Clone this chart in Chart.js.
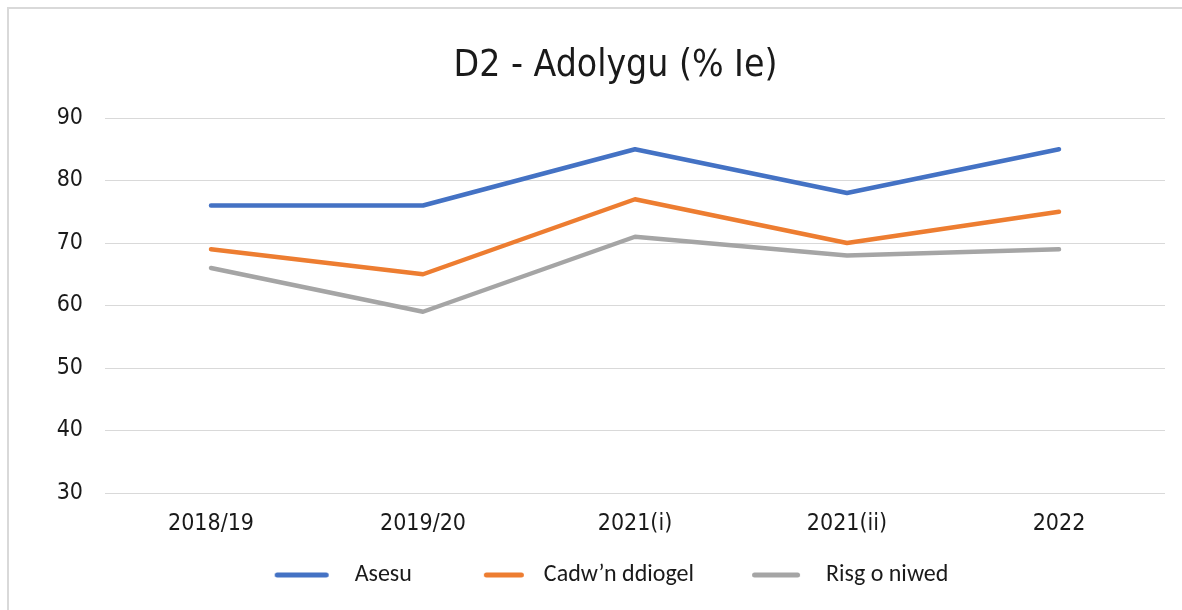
<!DOCTYPE html>
<html>
<head>
<meta charset="utf-8">
<script src="https://cdn.jsdelivr.net/npm/chart.js@4/dist/chart.umd.min.js"></script>
<style>
  body { margin: 0; background: #fff; overflow: hidden; }
  .frame {
    position: absolute; left: 7px; top: 7px; width: 1400px; height: 800px;
    border-left: 2px solid #d9d9d9; border-top: 2px solid #d9d9d9;
  }
  .wrap { position: absolute; left: 0; top: 0; width: 1182px; height: 610px; }
</style>
</head>
<body>
<div class="frame"></div>
<div class="wrap"><canvas id="adolyguChart"></canvas></div>
<script>
const categories = ['2018/19', '2019/20', '2021(i)', '2021(ii)', '2022'];
const asesu = [76, 76, 85, 78, 85];
const cadwnDdiogel = [69, 65, 77, 70, 75];
const risgONiwed = [66, 59, 71, 68, 69];
const seriesNames = ['Asesu', 'Cadw\u2019n ddiogel', 'Risg o niwed'];
const yMin = 30, yMax = 90, yStep = 10;

const colors = ['#4472C4', '#ED7D31', '#A5A5A5'];
const tickFont = { family: '"DejaVu Sans Condensed", "DejaVu Sans", sans-serif', size: 23 };
const legendFontSize = 24;
const legendPad = 20;
const bottomPad = 13;
const markW = 100;   // legend marker slot width

// legend marker: a thick line from a to b inside a wider transparent slot
function legendMark(color, a, b) {
    let c = document.createElement('canvas');
    c.width = markW;
    c.height = 10;
    let g = c.getContext('2d');
    g.strokeStyle = color;
    g.lineWidth = 5;
    g.lineCap = 'round';
    g.beginPath();
    g.moveTo(a + 2.5, 5);
    g.lineTo(b - 2.5, 5);
    g.stroke();
    return c;
}

function line(label, data, color, mark) {
    return {
        label: label,
        data: data,
        borderColor: color,
        backgroundColor: color,
        borderWidth: 4.5,
        pointRadius: 0,
        pointStyle: mark,
        tension: 0,
        borderCapStyle: 'round',
        borderJoinStyle: 'round'
    };
}

// move title and legend sideways to where they sit in the picture
const shiftBoxes = {
    id: 'shiftBoxes',
    afterLayout(chart) {
        chart.titleBlock.left += 13;
        chart.titleBlock.right += 13;
        chart.legend.left -= 7;
        chart.legend.right -= 7;
    }
};

var ctx = document.getElementById('adolyguChart');
var myChart = new Chart(ctx, {
    type: 'line',
    data: {
        labels: categories,
        datasets: [
            line(seriesNames[0], asesu, colors[0], legendMark(colors[0], 32, 86)),
            line(seriesNames[1], cadwnDdiogel, colors[1], legendMark(colors[1], 52, 92)),
            line(seriesNames[2], risgONiwed, colors[2], legendMark(colors[2], 38, 86))
        ]
    },
    options: {
        responsive: true,
        maintainAspectRatio: false,
        animation: false,
        layout: { padding: { left: 40, right: 17, top: 0, bottom: bottomPad } },
        plugins: {
            title: {
                display: true,
                text: 'D2 - Adolygu (% Ie)',
                color: '#1a1a1a',
                font: { family: '"DejaVu Sans Condensed", "DejaVu Sans", sans-serif', size: 37, weight: 'normal' },
                padding: { top: 44, bottom: 29.6 }
            },
            legend: {
                position: 'bottom',
                labels: {
                    usePointStyle: true,
                    pointStyleWidth: markW,
                    padding: legendPad,
                    color: '#1a1a1a',
                    font: { family: 'Carlito, Lato, sans-serif', size: legendFontSize }
                }
            },
            tooltip: { enabled: false }
        },
        scales: {
            x: {
                offset: true,
                grid: { display: false, drawTicks: false },
                border: { display: false },
                ticks: { color: '#1a1a1a', font: tickFont, padding: 17 },
                afterFit: (s) => { s.height = 610 - 493 - bottomPad - (legendFontSize + legendPad + 10); }
            },
            y: {
                min: yMin,
                max: yMax,
                grid: { color: '#d9d9d9', lineWidth: 1, drawTicks: false },
                border: { display: false },
                ticks: { stepSize: yStep, color: '#1a1a1a', font: tickFont, padding: 22 },
                afterFit: (s) => { s.width = 65; }
            }
        }
    },
    plugins: [shiftBoxes]
});
</script>
</body>
</html>
